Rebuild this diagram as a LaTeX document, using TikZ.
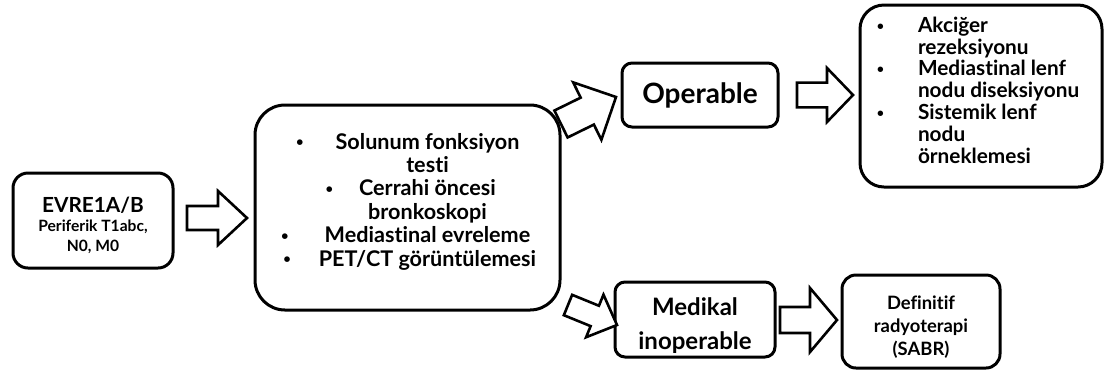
\documentclass[tikz,border=0pt]{standalone}
\usepackage{fontspec}
\setmainfont{Lato}[Ligatures=NoCommon]
\usepackage{tikz}
\usetikzlibrary{calc}
\tikzstyle{box} = [
    draw,
    line width=1.5pt,
    align=center,
    inner sep=0pt,
    font=\bfseries
]
\tikzstyle{blockarrow} = [
    draw,
    line width=1.3pt,
    fill=white,
    line join=miter
]
% small bullet hanging left of a line
\newcommand{\itembul}[1]{\leavevmode\llap{\raisebox{0.1em}{\scalebox{0.6}{\textbullet}}\hspace{#1}}}
% block arrow: from, to, shaft half width, head half width, head length
\newcommand{\blockarr}[5]{%
    \draw[blockarrow] ($(#1)!#3!90:(#2)$)
        -- ($(#2)!#5!(#1)!#3!90:(#2)$)
        -- ($(#2)!#5!(#1)!#4!90:(#2)$)
        -- (#2)
        -- ($(#2)!#5!(#1)!#4!-90:(#2)$)
        -- ($(#2)!#5!(#1)!#3!-90:(#2)$)
        -- ($(#1)!#3!-90:(#2)$) -- cycle;}

\begin{document}
\begin{tikzpicture}[x=0.5pt, y=-0.5pt]
        \useasboundingbox (0,0) rectangle (1114,377);

        % Stage
        \node[box, rounded corners=7.5pt, minimum width=80pt, minimum height=47.5pt,
              font=\bfseries\fontsize{7.8}{10}\selectfont] (stage) at (93,220.5)
            {{\fontsize{10.4}{12}\selectfont\rule{0pt}{12.5pt}EVRE1A/B}\\[-0.5pt]
             Periferik T1abc,\\ N0, M0};

        % Work-up before surgery
        \node[box, rounded corners=15pt, minimum width=152.5pt, minimum height=102.5pt,
              font=\bfseries\fontsize{10.8}{11.7}\selectfont] (prep) at (407.5,207.5)
            {\parbox{146pt}{\parindent=0pt\leftskip=20pt plus 1fill\rightskip=0pt plus 1fill\parfillskip=0pt
             \itembul{16pt}Solunum  fonksiyon\\ testi\\
             \itembul{13pt}Cerrahi öncesi\\ bronkoskopi\\
             \itembul{18pt}Mediastinal evreleme\\
             \itembul{14pt}PET/CT görüntülemesi\rule[-8pt]{0pt}{1pt}}};

        % Operable branch
        \node[box, rounded corners=5pt, minimum width=78pt, minimum height=32pt,
              font=\bfseries\fontsize{14}{16}\selectfont] (operable) at (700,95) {Operable};
        \node[box, rounded corners=12pt, minimum width=121pt, minimum height=91pt,
              font=\bfseries\fontsize{10.4}{10.9}\selectfont] (surgery) at (981,96)
            {\parbox{113pt}{\parindent=0pt\leftskip=25pt\rightskip=0pt plus 1fil\parfillskip=0pt plus 1fil
             \itembul{17pt}Akciğer\\ rezeksiyonu\\
             \itembul{17pt}Mediastinal lenf\\ nodu diseksiyonu\\
             \itembul{17pt}Sistemik lenf\\ nodu\\ örneklemesi\rule[-6pt]{0pt}{1pt}}};

        % Inoperable branch
        \node[box, rounded corners=5pt, minimum width=80pt, minimum height=37.5pt,
              font=\bfseries\fontsize{12}{17.2}\selectfont] (inoperable) at (695,319.5)
            {\rule{0pt}{15pt}Medikal\\ inoperable};
        \node[box, rounded corners=7pt, minimum width=79pt, minimum height=46.5pt,
              font=\bfseries\fontsize{9.2}{11.5}\selectfont] (sabr) at (921,321.5)
            {\rule{0pt}{12.3pt}Definitif\\ radyoterapi\\ (SABR)};

        % Arrow ends
        \coordinate (t1) at (187,218);
        \coordinate (h1) at (247,218);
        \coordinate (t2) at (561,124);
        \coordinate (h2) at (616,97);
        \coordinate (t3) at (568,305);
        \coordinate (h3) at (617,325);
        \coordinate (t4) at (797,95);
        \coordinate (h4) at (853,95);
        \coordinate (t5) at (780,320);
        \coordinate (h5) at (837,320);

        % Block arrows
        \blockarr{t1}{h1}{6pt}{13.5pt}{14.5pt}
        \blockarr{t2}{h2}{7.5pt}{16pt}{16pt}
        \blockarr{t3}{h3}{5.5pt}{11.5pt}{12pt}
        \blockarr{t4}{h4}{6.2pt}{13.5pt}{13pt}
        \blockarr{t5}{h5}{6.5pt}{16pt}{13.5pt}
    \end{tikzpicture}
\end{document}
